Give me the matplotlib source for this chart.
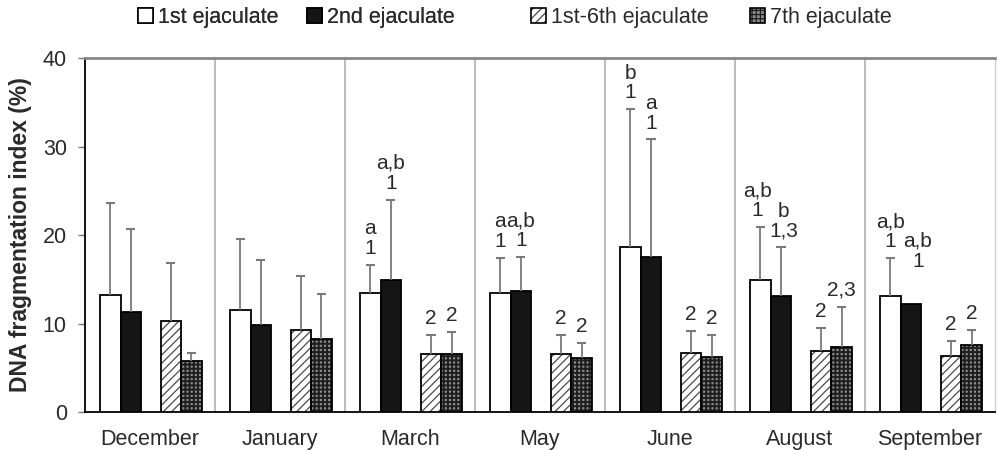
import numpy as np
import matplotlib
matplotlib.use('Agg')
import matplotlib.pyplot as plt
from matplotlib.patches import Patch

plt.rcParams['font.family'] = ['Liberation Sans', 'DejaVu Sans']
plt.rcParams['hatch.linewidth'] = 0.9

months = ['December', 'January', 'March', 'May', 'June', 'August', 'September']
series = ['1st ejaculate', '2nd ejaculate', '1st-6th ejaculate', '7th ejaculate']

mean_1st = [13.2, 11.5, 13.4, 13.5, 18.6, 14.9, 13.1]
sd_1st = [10.4, 8.0, 3.2, 3.9, 15.6, 6.0, 4.3]
mean_2nd = [11.3, 9.8, 14.9, 13.7, 17.5, 13.1, 12.2]
sd_2nd = [9.4, 7.4, 9.1, 3.8, 13.3, 5.5, np.nan]   # no bar drawn for Sept
mean_1to6 = [10.3, 9.3, 6.6, 6.6, 6.7, 6.9, 6.3]
sd_1to6 = [6.5, 6.1, 2.1, 2.1, 2.5, 2.6, 1.7]
mean_7th = [5.8, 8.2, 6.6, 6.1, 6.2, 7.4, 7.6]
sd_7th = [0.9, 5.1, 2.4, 1.7, 2.5, 4.5, 1.7]

lab_1st = ['', '', 'a\n1', 'a\n1', 'b\n1', 'a,b\n1', 'a,b\n1']
lab_2nd = ['', '', 'a,b\n1', 'a,b\n1', 'a\n1', 'b\n1,3', 'a,b\n1']
lab_1to6 = ['', '', '2', '2', '2', '2', '2']
lab_7th = ['', '', '2', '2', '2', '2,3', '2']

means = [mean_1st, mean_2nd, mean_1to6, mean_7th]
sds = [sd_1st, sd_2nd, sd_1to6, sd_7th]
labels = [lab_1st, lab_2nd, lab_1to6, lab_7th]
offsets = [-0.304, -0.146, 0.162, 0.32]
width = 0.158
# small sideways nudges (points) so neighbouring labels don't collide
nudge = {(1, 6): 5, (0, 5): -2, (1, 5): 2}

fig = plt.figure(figsize=(9.98, 4.5), dpi=100)
ax = fig.add_axes([0.085, 0.0844, 0.912, 0.7866])

x = np.arange(len(months))
txtc = '#2a2a2a'

def checker_patches(lw=1.2):
    with plt.rc_context({'hatch.linewidth': 1.4}):
        grid = Patch(facecolor='none', edgecolor='#1e1e1e', hatch='++++', lw=0)
    return (Patch(facecolor='#8c8c8c', lw=0), grid,
            Patch(facecolor='none', edgecolor='black', lw=lw))

def draw_bars(k, xs, m):
    if k == 0:
        ax.bar(xs, m, width, color='white', edgecolor='black', lw=1.3, zorder=3)
    elif k == 1:
        ax.bar(xs, m, width, color='#151515', edgecolor='black', lw=1.3, zorder=3)
    elif k == 2:
        ax.bar(xs, m, width, color='white', edgecolor='#4a4a4a', hatch='////', lw=0, zorder=3)
        ax.bar(xs, m, width, color='none', edgecolor='black', lw=1.3, zorder=4)
    else:
        ax.bar(xs, m, width, color='#8c8c8c', lw=0, zorder=3)
        with plt.rc_context({'hatch.linewidth': 1.4}):
            ax.bar(xs, m, width, color='none', edgecolor='#1e1e1e', hatch='++++', lw=0, zorder=3.5)
        ax.bar(xs, m, width, color='none', edgecolor='black', lw=1.3, zorder=4)

for k in range(4):
    xs = x + offsets[k]
    m = np.array(means[k])
    s = np.array(sds[k])
    draw_bars(k, xs, m)
    ok = np.isfinite(s)
    ax.vlines(xs[ok], m[ok], m[ok] + s[ok], color='#7a7a7a', lw=1.3, zorder=5)
    ax.hlines(m[ok] + s[ok], xs[ok] - 0.035, xs[ok] + 0.035, color='#7a7a7a', lw=1.5, zorder=5)
    for i in range(len(months)):
        if not labels[k][i]:
            continue
        top = m[i] + (s[i] if ok[i] else 0)
        dy = 5 if ok[i] else 24
        ax.annotate(labels[k][i], xy=(xs[i], top), xytext=(nudge.get((k, i), 0), dy),
                    textcoords='offset points', ha='center', va='bottom', fontsize=15,
                    color=txtc, linespacing=1.05, zorder=6)

ax.vlines(x[:-1] + 0.5, 0, 40, color='#a8a8a8', lw=1.1, zorder=1)

ax.set_xlim(-0.5, len(months) - 0.5)
ax.set_ylim(0, 40)
ax.set_yticks([0, 10, 20, 30, 40])
ax.set_xticks(x)
ax.set_xticklabels(months)
ax.tick_params(axis='x', length=0, pad=12, labelsize=15.5, labelcolor=txtc)
ax.tick_params(axis='y', length=5, width=1, color='#777777', pad=8, labelsize=15.5, labelcolor=txtc)
ax.set_ylabel('DNA fragmentation index (%)', fontsize=16.5, fontweight='bold', color=txtc, labelpad=8)

ax.spines['left'].set_color('black')
ax.spines['left'].set_linewidth(1.3)
ax.spines['bottom'].set_color('black')
ax.spines['bottom'].set_linewidth(1.3)
ax.spines['top'].set_color('#888888')
ax.spines['top'].set_linewidth(2)
ax.spines['right'].set_color('#d0d0d0')
ax.spines['right'].set_linewidth(1)

# legend, in two pairs like the original
h1 = Patch(facecolor='white', edgecolor='black', lw=1.2)
h2 = Patch(facecolor='#151515', edgecolor='black', lw=1.2)
h3 = (Patch(facecolor='white', edgecolor='#4a4a4a', hatch='////', lw=0),
      Patch(facecolor='none', edgecolor='black', lw=1.2))
h4 = checker_patches()
leg_kw = dict(ncol=2, frameon=False, fontsize=15.5, handlelength=0.7, handleheight=0.7,
              handletextpad=0.25, labelcolor=txtc, borderpad=0, borderaxespad=0)
leg1 = fig.legend([h1, h2], series[:2], loc='center left', bbox_to_anchor=(0.138, 0.962),
                  columnspacing=1.3, **leg_kw)
fig.add_artist(leg1)
fig.legend([h3, h4], series[2:], loc='center left', bbox_to_anchor=(0.532, 0.962),
           columnspacing=1.9, **leg_kw)

fig.savefig('out.png', dpi=100)
